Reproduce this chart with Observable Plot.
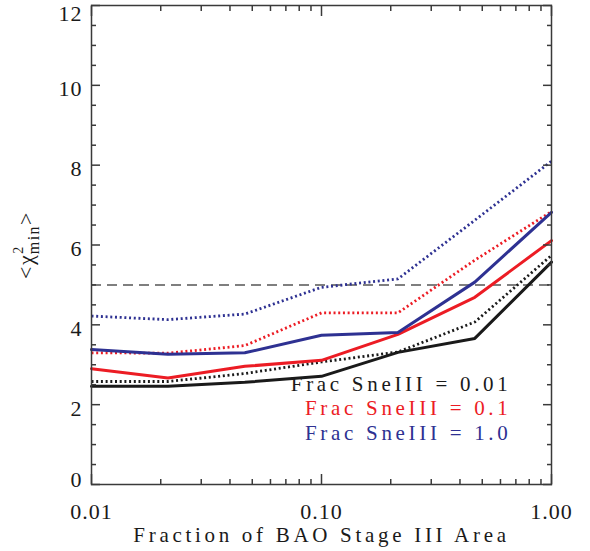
<!DOCTYPE html>
<html>
<head>
<meta charset="utf-8">
<script src="https://cdn.jsdelivr.net/npm/d3@7"></script>
<script src="https://cdn.jsdelivr.net/npm/@observablehq/plot@0.6"></script>
<style>
  html, body { margin: 0; padding: 0; background: #fff; }
  svg { display: block; }
</style>
</head>
<body>
<div id="chart"></div>
<script>
// ---- data ----
const fractions = [0.01, 0.0215, 0.0464, 0.1, 0.215, 0.464, 1.0];

const solidSne001 = [2.46, 2.46, 2.56, 2.71, 3.31, 3.66, 5.57];
const dottedSne001 = [2.58, 2.58, 2.78, 3.07, 3.32, 4.07, 5.74];
const solidSne01  = [2.90, 2.67, 2.96, 3.11, 3.76, 4.69, 6.11];
const dottedSne01 = [3.30, 3.29, 3.48, 4.30, 4.30, 5.62, 6.84];
const solidSne10  = [3.38, 3.26, 3.30, 3.74, 3.81, 5.07, 6.82];
const dottedSne10 = [4.22, 4.13, 4.27, 4.94, 5.15, 6.62, 8.10];

const seriesNames  = ["Frac SneIII = 0.01", "Frac SneIII = 0.1", "Frac SneIII = 1.0"];
const seriesColors = ["#1a1a1a", "#ec1c24", "#2e3192"];
const solidSeries  = [solidSne001, solidSne01, solidSne10];
const dottedSeries = [dottedSne001, dottedSne01, dottedSne10];

const threshold = [5];

const yTicks = [0, 2, 4, 6, 8, 10, 12];
const yMinorTicks = [0.5, 1, 1.5, 2.5, 3, 3.5, 4.5, 5, 5.5, 6.5, 7, 7.5, 8.5, 9, 9.5, 10.5, 11, 11.5];
const xTicks = [0.01, 0.1, 1];
const xMinorTicks = [0.02, 0.03, 0.04, 0.05, 0.06, 0.07, 0.08, 0.09, 0.2, 0.3, 0.4, 0.5, 0.6, 0.7, 0.8, 0.9];

const xLabel = "Fraction of BAO Stage III Area";

// ---- build tables ----
function rows(values, name) {
  return fractions.map((f, i) => ({x: f, y: values[i], series: name}));
}

const FONT = "'Liberation Serif', 'DejaVu Serif', serif";
const FS = 21;
const axisColor = "#3a3a3a";
const textColor = "#1a1a1a";

const marks = [];

// dashed reference line
marks.push(Plot.ruleY(threshold, {stroke: "#555", strokeWidth: 1.5, strokeDasharray: "10,6"}));

// dotted lines first, then solid
dottedSeries.forEach((vals, i) => {
  marks.push(Plot.line(rows(vals, seriesNames[i]), {
    x: "x", y: "y", stroke: seriesColors[i], strokeWidth: 2.8,
    strokeDasharray: "2,2.7", strokeLinecap: "butt", strokeLinejoin: "miter"
  }));
});
solidSeries.forEach((vals, i) => {
  marks.push(Plot.line(rows(vals, seriesNames[i]), {
    x: "x", y: "y", stroke: seriesColors[i], strokeWidth: 3, strokeLinejoin: "miter"
  }));
});

// frame
marks.push(Plot.frame({stroke: axisColor, strokeWidth: 1.5}));

// inward ticks: y (left and right)
for (const anchor of ["left", "right"]) {
  marks.push(Plot.axisY({anchor, ticks: yTicks, tickSize: -9, fill: "none", stroke: axisColor, strokeWidth: 1.5, label: null}));
  marks.push(Plot.axisY({anchor, ticks: yMinorTicks, tickSize: -5, fill: "none", stroke: axisColor, strokeWidth: 1.5, label: null}));
}
// inward ticks: x (bottom and top)
for (const anchor of ["bottom", "top"]) {
  marks.push(Plot.axisX({anchor, ticks: xTicks, tickSize: -10, fill: "none", stroke: axisColor, strokeWidth: 1.5, label: null}));
  marks.push(Plot.axisX({anchor, ticks: xMinorTicks, tickSize: -5, fill: "none", stroke: axisColor, strokeWidth: 1.5, label: null}));
}

// tick labels (edge labels nudged inward, as in the reference)
const yLabelOpts = {anchor: "left", tickSize: 0, tickPadding: 9, stroke: "none", fill: textColor, label: null, tickFormat: d => String(d), fontSize: 22};
marks.push(Plot.axisY({...yLabelOpts, ticks: yTicks.slice(1, -1), dy: 4}));
marks.push(Plot.axisY({...yLabelOpts, ticks: [yTicks[0]], dy: -5}));
marks.push(Plot.axisY({...yLabelOpts, ticks: [yTicks[yTicks.length - 1]], dy: 8}));
marks.push(Plot.axisX({anchor: "bottom", ticks: xTicks, tickSize: 0, tickPadding: 19, stroke: "none", fill: textColor, label: null, tickFormat: d3.format(".2f"), fontSize: 22}));

// x axis title
marks.push(Plot.text([xLabel], {text: d => d, frameAnchor: "bottom", dy: 57, fill: textColor, fontSize: FS}));

// legend
const legendDy = [-94, -70, -45];
seriesNames.forEach((name, i) => {
  marks.push(Plot.text([name], {
    text: d => d, frameAnchor: "bottom-right", textAnchor: "end",
    dx: -40, dy: legendDy[i], fill: seriesColors[i], fontSize: FS
  }));
});

const chart = Plot.plot({
  width: 590,
  height: 551,
  marginLeft: 91,
  marginRight: 39,
  marginTop: 5,
  marginBottom: 67,
  x: {type: "log", domain: [0.01, 1]},
  y: {domain: [0, 12]},
  style: {fontFamily: FONT, fontSize: FS + "px", background: "#fff", color: textColor},
  marks
});

const svg = d3.select(chart);
// font + wide letter spacing like the original IDL lettering
svg.selectAll("text").style("font-family", FONT);
svg.selectAll('g[aria-label="text"] text').style("letter-spacing", "3.7px");
svg.selectAll('g[aria-label$="tick label"] text').style("letter-spacing", "1px");

// y axis title <χ²_min> with stacked super/subscript
const t = svg.append("text")
  .attr("transform", "translate(33,245) rotate(-90)")
  .attr("text-anchor", "middle")
  .style("font-family", FONT)
  .attr("font-size", 22)
  .style("letter-spacing", "1.5px")
  .attr("fill", textColor);
t.append("tspan").text("<χ");
t.append("tspan").attr("font-size", 14).attr("dy", -10).text("2");
t.append("tspan").attr("font-size", 16).attr("dx", -9).attr("dy", 16).text("min");
t.append("tspan").attr("dy", -6).text(">");

document.getElementById("chart").appendChild(chart);
</script>
</body>
</html>
